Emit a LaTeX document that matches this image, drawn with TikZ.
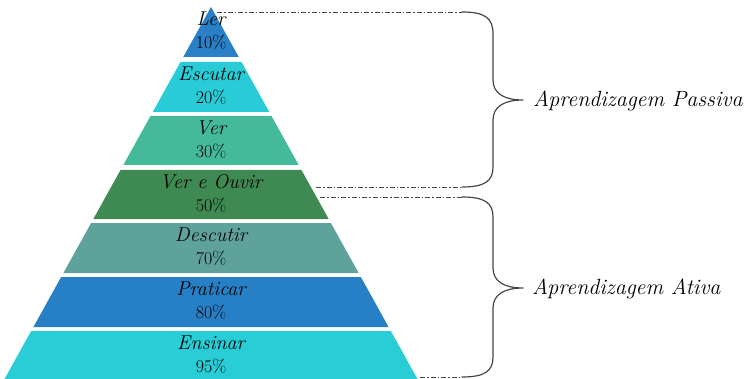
\documentclass[tikz,border=0pt]{standalone}
\usetikzlibrary{calc}
\definecolor{cLer}{HTML}{2A80C6}
\definecolor{cEsc}{HTML}{29CCD6}
\definecolor{cVer}{HTML}{45BA9A}
\definecolor{cVeO}{HTML}{3E8A52}
\definecolor{cDes}{HTML}{5FA29C}
\definecolor{cPra}{HTML}{2780C5}
\definecolor{cEns}{HTML}{28CDD6}
\definecolor{bracec}{HTML}{454545}
\tikzset{
  bandtext/.style={align=center, font=\fontsize{18}{23}\selectfont, text=black, inner sep=0pt},
  bracelabel/.style={anchor=west, font=\fontsize{22}{24}\selectfont\itshape, inner sep=0pt},
  guide/.style={draw=bracec, line width=0.9pt, dash pattern=on 5pt off 2pt on 1.5pt off 2pt},
  bracestroke/.style={draw=bracec, line width=1.2pt, line cap=round, line join=round}
}
\begin{document}
\begin{tikzpicture}[x=1pt,y=-1pt]
\useasboundingbox (0,0) rectangle (751,379);
\def\cx{211}\def\ay{7}\def\sl{0.555}
\foreach \t/\b/\c/\w/\p/\n in {7/57/cLer/Ler/10/ler,62/112/cEsc/Escutar/20/esc,116/165/cVer/Ver/30/ver,170/219/cVeO/Ver e Ouvir/50/veo,223/273/cDes/Descutir/70/des,277/327/cPra/Praticar/80/pra,331/380/cEns/Ensinar/95/ens}{
  \fill[\c] ({\cx-\sl*(\t-\ay)},\t) -- ({\cx+\sl*(\t-\ay)},\t) -- ({\cx+\sl*(\b-\ay)},\b) -- ({\cx-\sl*(\b-\ay)},\b) -- cycle;
  \node[bandtext] (\n) at (\cx,{(\t+\b)/2-1}) {{\fontsize{20}{23}\selectfont\itshape \w}\\\p\%};
}
% guide coordinates
\coordinate (g1s) at (217,12);
\coordinate (g1e) at (462,12);
\coordinate (g2s) at (316,187);
\coordinate (g2e) at (462,187);
\coordinate (g3s) at (320,197);
\coordinate (g3e) at (462,197);
\coordinate (g4s) at (420,377);
\coordinate (g4e) at (462,377);
\draw[guide] (g1s) -- (g1e);
\draw[guide] (g2s) -- (g2e);
\draw[guide] (g3s) -- (g3e);
\draw[guide] (g4s) -- (g4e);
% braces
\coordinate (tip1) at (523,100);
\coordinate (tip2) at (523,288);
\draw[bracestroke] (g1e) .. controls (485,12) and (493,18) .. (493,34) -- (493,80)
  .. controls (493,94) and (505,100) .. (tip1)
  .. controls (505,100) and (493,106) .. (493,120) -- (493,167)
  .. controls (493,181) and (485,187) .. (g2e);
\draw[bracestroke] (g3e) .. controls (485,197) and (493,203) .. (493,217) -- (493,268)
  .. controls (493,282) and (505,288) .. (tip2)
  .. controls (505,288) and (493,294) .. (493,308) -- (493,357)
  .. controls (493,371) and (485,377) .. (g4e);
\node[bracelabel] (passiva) at (533,101) {Aprendizagem Passiva};
\node[bracelabel] (ativa) at (532,289) {Aprendizagem Ativa};
\end{tikzpicture}
\end{document}
